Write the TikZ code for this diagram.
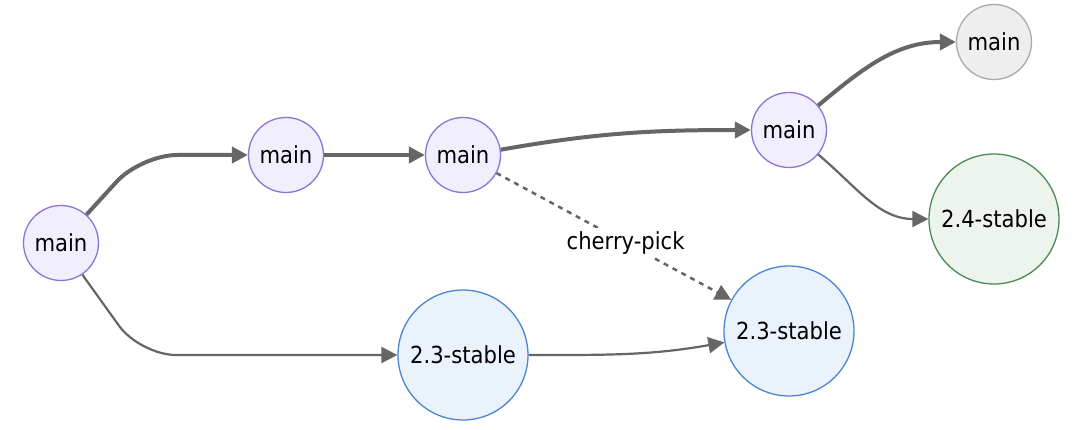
\documentclass[tikz,border=0pt]{standalone}
\usepackage{fontspec}
\setmainfont{DejaVu Sans Condensed}
\usetikzlibrary{arrows.meta}
\definecolor{edgecol}{HTML}{666666}
\definecolor{mainfill}{HTML}{F1EFFD}
\definecolor{mainline}{HTML}{8F72D8}
\definecolor{bluefill}{HTML}{EAF2FB}
\definecolor{blueline}{HTML}{4A86D4}
\definecolor{greenfill}{HTML}{EDF4EE}
\definecolor{greenline}{HTML}{4A8A55}
\definecolor{greyfill}{HTML}{EEEEEE}
\definecolor{greyline}{HTML}{AAAAAA}
\begin{document}
\begin{tikzpicture}[x=1pt,y=1pt,
  txt/.style={font=\fontsize{23.5}{28}\selectfont},
  commit/.style={circle, inner sep=0pt, minimum size=75pt, line width=1.3pt, txt},
  mainc/.style={commit, draw=mainline, fill=mainfill},
  greyc/.style={commit, draw=greyline, fill=greyfill},
  bluec/.style={commit, minimum size=130pt, draw=blueline, fill=bluefill},
  greenc/.style={commit, minimum size=130pt, draw=greenline, fill=greenfill},
  tip/.style={-{Triangle[length=16pt,width=16pt]}},
  trunk/.style={tip, draw=edgecol, line width=4pt},
  branch/.style={tip, draw=edgecol, line width=2.2pt},
  pick/.style={tip, draw=edgecol, line width=2.5pt, dash pattern=on 5pt off 5pt},
  lbl/.style={fill=white, inner sep=3pt, txt}]
\useasboundingbox (0,0) rectangle (1080,429);
\fill[white] (0,0) rectangle (1080,429);
\node[mainc] (A) at (61,186) {main};
\node[mainc] (B) at (286,274) {main};
\node[mainc] (C) at (463,274) {main};
\node[mainc] (D) at (789,299) {main};
\node[greyc] (E) at (994,387) {main};
\node[greenc] (F) at (994,210) {2.4-stable};
\node[bluec] (G) at (463,74) {2.3-stable};
\node[bluec] (H) at (789,98) {2.3-stable};
\coordinate (ab) at (141,274);
\coordinate (ag) at (140,74);
\draw[trunk, rounded corners=36pt] (A.48) -- (ab) -- (B.west);
\draw[trunk] (B) -- (C);
\draw[trunk] (C.8) to[out=10,in=180] (D.west);
\draw[trunk] (D.40) to[out=40,in=180] (E.west);
\draw[branch] (D.-40) to[out=-40,in=180] (F.west);
\draw[branch, rounded corners=36pt] (A.-56) -- (ag) -- (G.west);
\draw[branch] (G.east) to[out=0,in=190] (H.190);
\draw[pick] (C) -- node[lbl, pos=0.55] {cherry-pick} (H);
\end{tikzpicture}
\end{document}
